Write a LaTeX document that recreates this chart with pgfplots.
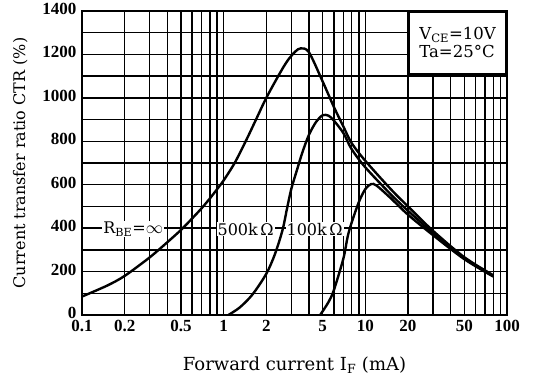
\documentclass[border=0pt]{standalone}
\usepackage{pgfplots}
\pgfplotsset{compat=1.18}
\usepackage{fontspec}
\setmainfont{DejaVu Serif}
\newfontfamily\tickfont{Liberation Serif}
\begin{document}
\begin{tikzpicture}[x=1pt,y=1pt]
\useasboundingbox (0,0) rectangle (533,381);
\begin{axis}[
  at={(82pt,66pt)}, anchor=south west,
  scale only axis, width=425pt, height=304pt,
  xmode=log, xmin=0.1, xmax=100, ymin=0, ymax=1400,
  xtick={0.1,0.2,0.5,1,2,5,10,20,50,100},
  xticklabels={0.1,0.2,0.5,1,2,5,10,20,50,100},
  minor xtick={0.3,0.4,0.6,0.7,0.8,0.9,3,4,6,7,8,9,30,40,60,70,80,90},
  ytick={0,200,400,600,800,1000,1200,1400},
  minor ytick={100,300,500,700,900,1100,1300},
  /pgf/number format/1000 sep={},
  /pgf/number format/assume math mode=true,
  grid=both,
  major grid style={black, line width=1.5pt},
  minor grid style={black, line width=1.5pt},
  axis line style={line width=1.8pt},
  major tick length=0pt, minor tick length=0pt,
  ticklabel style={font=\tickfont\bfseries\fontsize{17}{17}\selectfont},
  xticklabel style={yshift=-2pt},
  yticklabel style={xshift=-2pt, yshift=2pt},
  xlabel={Forward current I\textsubscript{F} (mA)},
  ylabel={Current transfer ratio CTR (\%)},
  xlabel style={font=\fontsize{18}{18}\selectfont, yshift=-18pt},
  ylabel style={font=\fontsize{16}{16}\selectfont, yshift=8pt},
]
\addplot[black, line width=2.4pt, smooth] coordinates {
(0.1,85) (0.15,135) (0.2,180) (0.3,265) (0.4,335) (0.5,392) (0.6,445) (0.7,492)
(0.8,537) (0.9,580) (1,620) (1.2,702) (1.45,808) (1.7,903) (2,1000) (2.5,1115)
(2.83,1172) (3.2,1213) (3.5,1228) (4,1210) (5,1075) (6,958) (7,868) (8,792)
(10,710) (15,582) (20,500) (30,388) (50,266) (80,183)};
\addplot[black, line width=2.4pt, smooth] coordinates {
(1.08,0) (1.3,35) (1.6,95) (2,190) (2.3,280) (2.6,390) (2.8,490) (3,580)
(3.3,670) (3.6,750) (4,830) (4.5,890) (5,920) (5.5,918) (6,895) (7,838)
(8,764) (10,680) (15,558) (20,480) (30,378) (50,262) (80,180)};
\addplot[black, line width=2.4pt, smooth] coordinates {
(4.8,0) (5.5,60) (6,115) (7,260) (7.5,360) (8,425) (9,520) (10,580)
(11,603) (12,596) (15,540) (20,462) (30,368) (50,257) (80,177)};
\node[fill=white, inner sep=1pt, font=\fontsize{16}{16}\selectfont] at (axis cs:0.23,395) {R\textsubscript{BE}=$\infty$};
\node[fill=white, inner sep=1pt, font=\fontsize{16}{16}\selectfont] at (axis cs:1.43,395) {500k\,Ω};
\node[fill=white, inner sep=1pt, font=\fontsize{16}{16}\selectfont] at (axis cs:4.39,395) {100k\,Ω};
\node[draw, line width=1.8pt, fill=white, anchor=north east, minimum width=97pt, minimum height=62pt,
      align=left, inner sep=4pt, font=\fontsize{16.5}{18}\selectfont] at (rel axis cs:1,1)
  {V\textsubscript{CE}=10V\\Ta=25°C};
\end{axis}
\end{tikzpicture}
\end{document}
